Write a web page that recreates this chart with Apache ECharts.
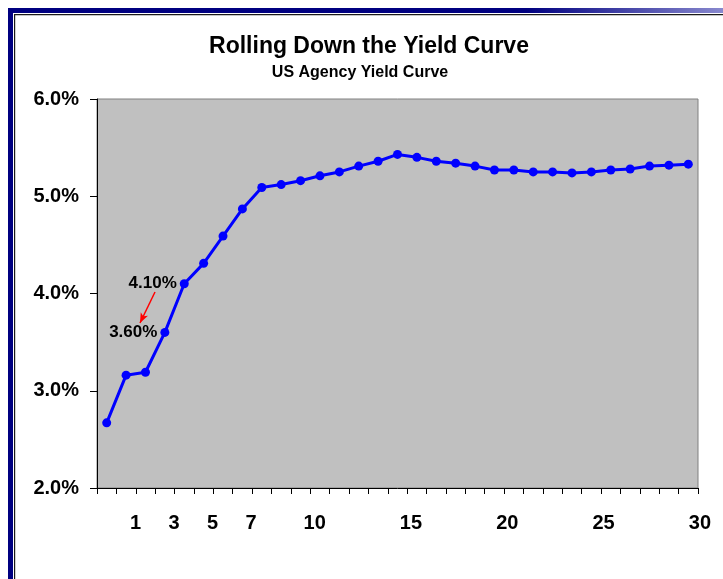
<!DOCTYPE html>
<html>
<head>
<meta charset="utf-8">
<title>Rolling Down the Yield Curve</title>
<script src="https://cdn.jsdelivr.net/npm/echarts@6/dist/echarts.min.js"></script>
<style>
  html, body { margin: 0; padding: 0; background: #ffffff; }
  #chart { width: 723px; height: 579px; }
</style>
</head>
<body>
<div id="chart"></div>
<script>
// Curve points, one per slot along the maturity axis
const points = ['1','2','3','4','5','6','7','8','9','10','11','12','13','14','15','16',
                '17','18','19','20','21','22','23','24','25','26','27','28','29','30','31'];
// Yield at each point (%)
const yields = [2.67, 3.16, 3.19, 3.60, 4.10, 4.31, 4.59, 4.87, 5.09, 5.12, 5.16,
                5.21, 5.25, 5.31, 5.36, 5.43, 5.40, 5.36, 5.34, 5.31, 5.27, 5.27,
                5.25, 5.25, 5.24, 5.25, 5.27, 5.28, 5.31, 5.32, 5.33];
// Maturity (years) labels under the axis and the slot each one sits at
const yearLabels = ['1', '3', '5', '7', '10', '15', '20', '25', '30'];
const yearSlots = [2, 4, 6, 8, 11.3, 16.3, 21.3, 26.3, 31.3];
// Points whose yield is written next to them (roll-down from 4.10% to 3.60%)
const labelledPoints = [3, 4];
// Value axis range (%)
const yMin = 2, yMax = 6, yStep = 1;

const FONT = '"Liberation Sans", Arial, sans-serif';
const plot = { left: 97, top: 99, width: 601, height: 389 };
const slotPx = plot.width / points.length;
const labelSlotsMax = 32.5;

const chart = echarts.init(document.getElementById('chart'), null, { renderer: 'canvas' });

const seriesData = yields.map(function (v, i) {
  const item = { value: v };
  if (labelledPoints.indexOf(i) >= 0) {
    item.label = {
      show: true,
      position: 'left',
      distance: 3,
      formatter: function (p) { return p.value.toFixed(2) + '%'; },
      color: '#000000',
      fontFamily: FONT,
      fontWeight: 'bold',
      fontSize: 17
    };
  }
  return item;
});

chart.setOption({
  animation: false,
  backgroundColor: '#ffffff',
  grid: [
    {
      left: plot.left, top: plot.top, width: plot.width, height: plot.height,
      show: true, backgroundColor: '#C0C0C0', borderColor: '#808080', borderWidth: 1
    },
    {
      left: plot.left, top: plot.top, width: slotPx * labelSlotsMax, height: plot.height,
      show: false
    }
  ],
  xAxis: [
    {
      type: 'category',
      gridIndex: 0,
      data: points,
      boundaryGap: true,
      axisLine: { show: true, lineStyle: { color: '#000000', width: 1 } },
      axisTick: { show: true, inside: false, length: 6, interval: 0, lineStyle: { color: '#000000', width: 1 } },
      axisLabel: { show: false },
      splitLine: { show: false }
    },
    {
      type: 'value',
      gridIndex: 1,
      min: 0,
      max: labelSlotsMax,
      axisLine: { show: false },
      axisTick: { show: false },
      splitLine: { show: false },
      axisLabel: {
        show: true,
        customValues: yearSlots,
        formatter: function (v) { return yearLabels[yearSlots.indexOf(v)]; },
        margin: 25,
        color: '#000000',
        fontFamily: FONT,
        fontWeight: 'bold',
        fontSize: 20
      }
    }
  ],
  yAxis: [
    {
      type: 'value',
      gridIndex: 0,
      min: yMin,
      max: yMax,
      interval: yStep,
      axisLine: { show: true, lineStyle: { color: '#000000', width: 1 } },
      axisTick: { show: true, inside: false, length: 7, lineStyle: { color: '#000000', width: 1 } },
      splitLine: { show: false },
      axisLabel: {
        margin: 18,
        formatter: function (v) { return v.toFixed(1) + '%'; },
        color: '#000000',
        fontFamily: FONT,
        fontWeight: 'bold',
        fontSize: 20
      }
    },
    { type: 'value', gridIndex: 1, show: false, min: 0, max: 1 }
  ],
  series: [
    {
      type: 'line',
      xAxisIndex: 0,
      yAxisIndex: 0,
      data: seriesData,
      symbol: 'circle',
      symbolSize: 9,
      showAllSymbol: true,
      lineStyle: { color: '#0000FF', width: 3 },
      itemStyle: { color: '#0000FF' },
      emphasis: { disabled: true },
      markLine: {
        silent: true,
        animation: false,
        symbol: ['none', 'arrow'],
        symbolSize: [6, 10],
        label: { show: false },
        lineStyle: { color: '#FF0000', width: 1.5, type: 'solid' },
        data: [[{ x: 155, y: 292 }, { x: 140, y: 323 }]]
      }
    }
  ],
  graphic: [
    // slide frame
    { type: 'rect', silent: true, shape: { x: 8, y: 8, width: 5, height: 580 }, style: { fill: '#000080' } },
    {
      type: 'rect', silent: true, shape: { x: 8, y: 8, width: 720, height: 5 },
      style: {
        fill: new echarts.graphic.LinearGradient(0, 0, 1, 0, [
          { offset: 0, color: '#000080' },
          { offset: 0.72, color: '#000080' },
          { offset: 1, color: '#8c8cd0' }
        ])
      }
    },
    { type: 'rect', silent: true, shape: { x: 14, y: 14, width: 1.2, height: 570 }, style: { fill: '#1a1a1a' } },
    { type: 'rect', silent: true, shape: { x: 14, y: 14, width: 715, height: 1.2 }, style: { fill: '#1a1a1a' } },
    // titles
    {
      type: 'text', silent: true, x: 369, y: 47,
      style: {
        text: 'Rolling Down the Yield Curve',
        font: 'bold 23px ' + FONT, fill: '#000000',
        align: 'center', verticalAlign: 'middle', textAlign: 'center', textVerticalAlign: 'middle'
      }
    },
    {
      type: 'text', silent: true, x: 360, y: 73,
      style: {
        text: 'US Agency Yield Curve',
        font: 'bold 16px ' + FONT, fill: '#000000',
        align: 'center', verticalAlign: 'middle', textAlign: 'center', textVerticalAlign: 'middle'
      }
    }
  ]
});
</script>
</body>
</html>
